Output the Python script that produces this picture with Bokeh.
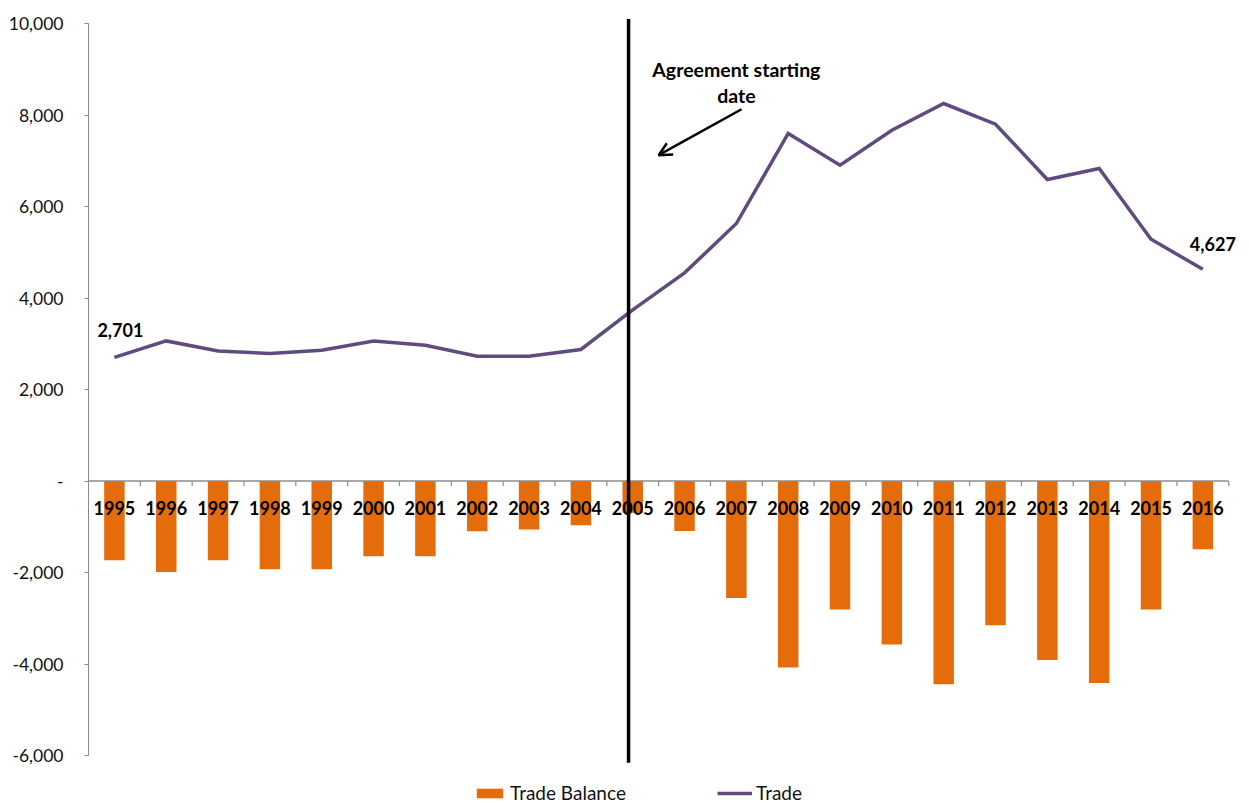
from bokeh.plotting import figure
from bokeh.models import (ColumnDataSource, Range1d, FixedTicker, NumeralTickFormatter,
                          Arrow, OpenHead, Label, LabelSet, Legend, LegendItem)
from bokeh.core.properties import value
from bokeh.embed import file_html
from bokeh.resources import INLINE

# ---- data -------------------------------------------------------------
years = ["1995", "1996", "1997", "1998", "1999", "2000", "2001", "2002", "2003", "2004",
         "2005", "2006", "2007", "2008", "2009", "2010", "2011", "2012", "2013", "2014",
         "2015", "2016"]
trade_balance = [-1731, -1987, -1731, -1928, -1928, -1643, -1643, -1097, -1060, -966,
                 -697, -1091, -2555, -4077, -2809, -3574, -4441, -3152, -3910, -4413,
                 -2809, -1491]
trade = [2701, 3062, 2844, 2787, 2859, 3062, 2968, 2728, 2728, 2874,
         3740, 4549, 5628, 7596, 6903, 7668, 8251, 7799, 6590, 6831,
         5285, 4627]
y_ticks = [-6000, -4000, -2000, 0, 2000, 4000, 6000, 8000, 10000]
agreement_year = "2005"
annotation_lines = ["Agreement starting", "date"]

# ---- styling ------------------------------------------------------------
FONT = "Lato"
ORANGE = "#E46C0A"
PURPLE = "#5F4B80"
AXIS_GREY = "#8C8C8C"

W, H = 1249, 803
LEFT = 88                      # room for the value axis
PX_PER_CAT = 51.83             # horizontal pixels per year
PX_PER_UNIT = 0.04575          # vertical pixels per unit of value
TOP_PAD = 23                   # pixels above the 10,000 tick

# the plotting frame fills the canvas so that legend and labels are not clipped;
# the value axis line is bounded to the tick range
x_start = -0.5
x_end = x_start + (W - LEFT) / PX_PER_CAT
y_end = y_ticks[-1] + TOP_PAD / PX_PER_UNIT
y_start = y_end - H / PX_PER_UNIT

idx = list(range(len(years)))
src = ColumnDataSource(dict(x=idx, year=years, balance=trade_balance, trade=trade))

p = figure(width=W, height=H, output_backend="svg", toolbar_location=None,
           x_range=Range1d(x_start, x_end), y_range=Range1d(y_start, y_end),
           min_border_left=LEFT, min_border_right=0, min_border_top=0, min_border_bottom=0,
           x_axis_location=None)
p.outline_line_color = None
p.xgrid.visible = False
p.ygrid.visible = False
p.background_fill_color = "white"
p.border_fill_color = "white"

# value axis
yax = p.yaxis[0]
yax.bounds = (y_ticks[0], y_ticks[-1])
yax.ticker = FixedTicker(ticks=y_ticks, minor_ticks=[])
yax.formatter = NumeralTickFormatter(format="0,0")
yax.major_label_overrides = {0: "-"}
yax.axis_line_color = AXIS_GREY
yax.major_tick_line_color = AXIS_GREY
yax.major_tick_in = 0
yax.major_tick_out = 4
yax.minor_tick_line_color = None
yax.major_label_text_font = FONT
yax.major_label_text_font_size = "17.5px"
yax.major_label_text_color = "#111111"
yax.major_label_standoff = 21

# trade balance bars
bars = p.vbar(x="x", top="balance", bottom=0, width=0.395, source=src,
              fill_color=ORANGE, line_color=None)

# category axis drawn along zero
n = len(years)
p.segment(x0=[-0.5], x1=[n - 0.5], y0=[0], y1=[0], line_color=AXIS_GREY, line_width=1.3)
bounds = [i + 0.5 for i in idx]
p.segment(x0=bounds, x1=bounds, y0=[0] * n, y1=[-110] * n,
          line_color=AXIS_GREY, line_width=1.2)
p.text(x="x", y=0, text="year", source=src, text_align="center", text_baseline="middle",
       y_offset=27, text_font=value(FONT), text_font_style="bold",
       text_font_size="18px", text_color="black")

# trade line
tline = p.line(x="x", y="trade", source=src, line_color=PURPLE, line_width=3.5,
               line_join="miter")

# end labels for trade
first, last = 0, n - 1
lab_src = ColumnDataSource(dict(
    x=[first, last], y=[trade[first], trade[last]],
    txt=[f"{trade[first]:,}", f"{trade[last]:,}"],
    xo=[6, 10], yo=[20, 18]))
p.add_layout(LabelSet(x="x", y="y", text="txt", source=lab_src, x_offset="xo", y_offset="yo",
                      text_align="center", text_baseline="alphabetic",
                      text_font=value(FONT), text_font_style="bold", text_font_size="18px",
                      text_color="black"))

# agreement start marker
x_agree = years.index(agreement_year) - 0.08
p.add_layout(Arrow(end=None, x_start=x_agree, x_end=x_agree, y_start=10100, y_end=-6160,
                   line_color="black", line_width=3.5))
p.add_layout(Arrow(end=OpenHead(size=13, line_width=2.5, line_color="black"),
                   x_start=12.1, y_start=8125, x_end=10.5, y_end=7121,
                   line_color="black", line_width=2.5))
for line_txt, y_base in zip(annotation_lines, [9000, 8417]):
    p.add_layout(Label(x=12.0, y=y_base, text=line_txt, text_align="center",
                       text_baseline="alphabetic", text_font=FONT, text_font_style="bold",
                       text_font_size="19.5px", text_color="black"))

# legend entries
legend_style = dict(glyph_height=12, label_standoff=4, padding=0, margin=0,
                    border_line_color=None, background_fill_alpha=0,
                    label_text_font=FONT, label_text_font_size="19px",
                    label_text_color="#111111", label_height=16)
leg_bar = Legend(items=[LegendItem(label="Trade Balance", renderers=[bars])],
                 location=(385, -1), glyph_width=33, **legend_style)
leg_line = Legend(items=[LegendItem(label="Trade", renderers=[tline])],
                  location=(629, -1), glyph_width=35, **legend_style)
p.add_layout(leg_bar, "center")
p.add_layout(leg_line, "center")

open("out.html", "w").write(file_html(p, INLINE))
